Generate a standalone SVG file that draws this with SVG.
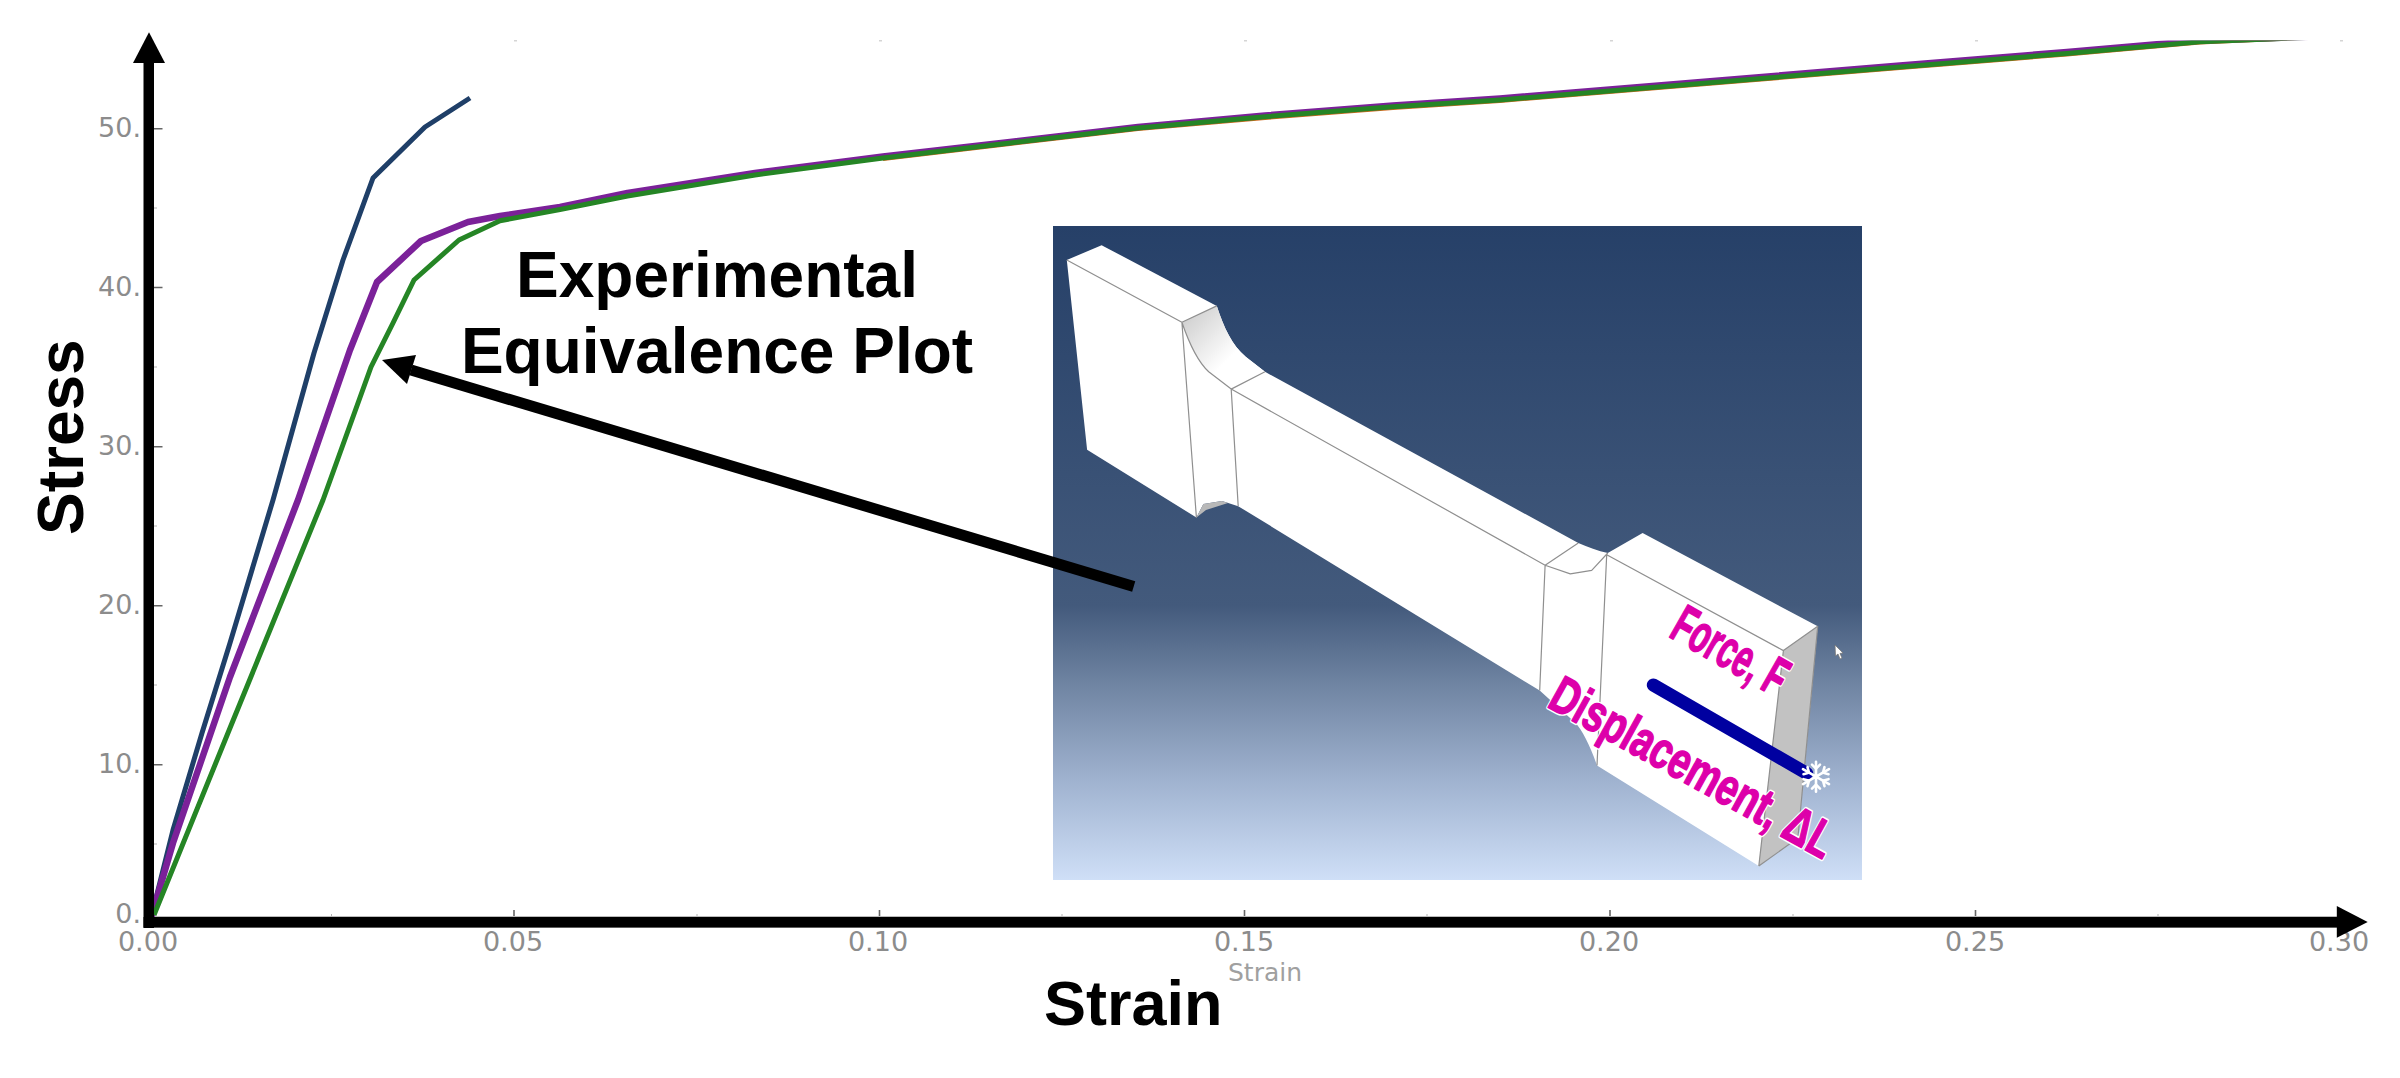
<svg xmlns="http://www.w3.org/2000/svg" width="2400" height="1078" viewBox="0 0 2400 1078">
<style>
.tick{font-family:"DejaVu Sans",sans-serif;font-size:27px;fill:#8c8c8c}
.big{font-family:"Liberation Sans",Arial,sans-serif;font-weight:700;fill:#000}
.mag{font-family:"Liberation Sans",Arial,sans-serif;font-weight:700}
.mag-out{fill:#fff;stroke:#fff;stroke-width:4.500px;stroke-linejoin:round}
.mag-in{fill:#dd00aa;stroke:#dd00aa;stroke-width:1.500px;stroke-linejoin:round}
.curve{fill:none;stroke-linejoin:round}
.edge{fill:none;stroke:#8f8f8f;stroke-width:1.200;stroke-linejoin:round}
.face{fill:#fff;stroke:none}
.flake{stroke:#fff;stroke-width:2.600;fill:none;stroke-linecap:round}
</style>
<defs>
<linearGradient id="bg" x1="0" y1="0" x2="0" y2="1">
<stop offset="0" stop-color="#264068"/><stop offset="0.58" stop-color="#435a7c"/><stop offset="0.7" stop-color="#6f84a2"/><stop offset="0.85" stop-color="#a0b3d0"/><stop offset="1" stop-color="#cfdff7"/>
</linearGradient>
<linearGradient id="fillet" x1="0" y1="0" x2="1" y2="1">
<stop offset="0" stop-color="#c8c8c8"/><stop offset="0.6" stop-color="#fff"/>
</linearGradient>
<clipPath id="plot"><rect x="100" y="40.400" width="2260" height="900"/></clipPath>
</defs>
<rect width="2400" height="1078" fill="#fff"/>

<g id="tick-marks" fill="none">
<path stroke="#666" stroke-width="1.600" d="M514 910V917M879.500 910V917M1244.500 910V917M1610 910V917M1975.500 910V917M2340 910V917M154 128.700H162.500M154 287.500H162.500M154 446.700H162.500M154 605.700H162.500M154 764.700H162.500"/>
<path stroke="#b5b5b5" stroke-width="1" d="M331.500 914V917M697 914V917M1062 914V917M1427 914V917M1793 914V917M2158 914V917M154 208H157M154 367H157M154 526H157M154 685H157M154 844H157"/>
<path stroke="#bbb" stroke-width="1.200" d="M150 916.500H2340M150 927.500H2340"/>
<path stroke="#d5d5d5" stroke-width="1.400" d="M514 40.700h3M879 40.700h3M1244 40.700h3M1610 40.700h3M1975 40.700h3M2340 40.700h3"/>
</g>

<g id="tick-labels">
<text class="tick" x="148" y="951" text-anchor="middle">0.00</text>
<text class="tick" x="513" y="951" text-anchor="middle">0.05</text>
<text class="tick" x="878" y="951" text-anchor="middle">0.10</text>
<text class="tick" x="1244" y="951" text-anchor="middle">0.15</text>
<text class="tick" x="1609" y="951" text-anchor="middle">0.20</text>
<text class="tick" x="1975" y="951" text-anchor="middle">0.25</text>
<text class="tick" x="2339" y="951" text-anchor="middle">0.30</text>
<text class="tick" x="141" y="137" text-anchor="end">50.</text>
<text class="tick" x="141" y="296" text-anchor="end">40.</text>
<text class="tick" x="141" y="455" text-anchor="end">30.</text>
<text class="tick" x="141" y="614" text-anchor="end">20.</text>
<text class="tick" x="141" y="773" text-anchor="end">10.</text>
<text class="tick" x="141" y="923" text-anchor="end">0.</text>
<text class="tick" x="1228" y="981" style="font-size:25px;fill:#a0a0a0">Strain</text>
</g>

<g id="curves" clip-path="url(#plot)">
<path class="curve" stroke="#d2691e" stroke-width="3" d="M883 159.500L1010 144.500L1138 129.500L1265 118.500L1393 108.500L1500 101.500L1900 68.500L2067 55L2200 43L2330 37"/>
<path class="curve" stroke="#1f3f68" stroke-width="5" d="M151 918L173 830L202 733L230 643L273 500L314 353L343 260L373 178L425 127L470 98"/>
<path class="curve" stroke="#7b2199" stroke-width="6.500" d="M151 918L173 843L230 677L298 500L350 350L377 282L421 241L468 222L500 216L560 207L627.500 193L755 173L883 156.500L1010 142L1138 127L1265 115.500L1393 105.500L1500 98.500L1900 65.500L2067 52L2200 40.500L2330 36"/>
<path class="curve" stroke="#258525" stroke-width="5" d="M154 915L230 728L323 500L371 367L393 323L414 280L459 240L500 220.700L560 209.500L627.500 196L755 175L883 158L1010 143L1138 128L1265 116.700L1393 106.700L1500 100L1900 67L2067 53.500L2200 41.800L2330 36.500"/>
</g>

<g id="specimen-panel">
<rect x="1053" y="226" width="809" height="654" fill="url(#bg)"/>
<path id="specimen-face" class="face" d="M1066.800 260L1101.600 245.200L1216.800 305.900C1224 328 1232 345 1246 357L1265 371.800L1578.300 543C1588 547 1598 551 1607.800 553L1642.600 533.100L1817.700 626.300L1797.900 838L1758.800 866.100L1597 765.500C1590 745 1582 730 1575.600 723L1539.700 690.500L1238.200 506.200L1222 501L1203.400 504L1196.400 517.500L1087.100 449.800Z"/>
<path fill="url(#fillet)" d="M1181.900 322.300L1216.800 305.900C1224 328 1232 345 1246 357L1265 371.800L1231.200 389.100L1208.700 371.800C1198 362 1190 346 1181.900 322.300Z"/>
<path fill="#c2c2c2" d="M1783.400 650.600L1817.700 626.300L1797.900 838L1758.800 866.100Z"/>
<path fill="#b8b8b8" d="M1196.400 517.500L1203.400 504L1222 501L1228 503L1206 510Z"/>
<path class="edge" d="M1066.800 260L1181.900 322.300L1196.400 517.500M1181.900 322.300L1216.800 305.900M1181.900 322.300C1190 346 1198 362 1208.700 371.800L1231.200 389.100L1238.200 506.200M1231.200 389.100L1265 371.800M1231.200 389.100L1545.100 565.200L1539.700 690.500M1545.100 565.200L1578.300 543M1545.100 565.200L1570.300 573.900L1591.700 570.400L1607.800 553M1606.700 554.800L1783.400 650.600L1758.800 866.100M1606.700 554.800L1597 765.500M1783.400 650.600L1817.700 626.300L1797.900 838L1758.800 866.100"/>
<path fill="#fff" stroke="#777" stroke-width="0.800" d="M1835 645L1835.500 656L1838 654L1840 659L1842 658L1840 653.500L1843 653Z"/>
</g>

<g id="black-arrow">
<path fill="none" stroke="#000" stroke-width="11" d="M411 370L1133.700 586.400"/>
<path fill="#000" d="M382 360L416 355L407 384Z"/>
</g>

<g id="axes">
<rect x="143.500" y="63" width="10.500" height="865"/>
<rect x="143.500" y="917" width="2193.500" height="10.500"/>
<path fill="#000" d="M149 32.300L165 63H133Z"/>
<path fill="#000" d="M2367.700 922L2336.800 906V937.700Z"/>
</g>

<g id="title">
<text class="big" x="717" y="297" text-anchor="middle" font-size="64">Experimental</text>
<text class="big" x="717" y="373" text-anchor="middle" font-size="64">Equivalence Plot</text>
</g>
<text id="stress-label" class="big" transform="translate(83 535) rotate(-90)" font-size="64">Stress</text>
<text id="strain-label" class="big" x="1044" y="1025" font-size="63">Strain</text>

<g id="measure">
<line x1="1653.300" y1="685" x2="1806.700" y2="773.300" stroke="#0000a0" stroke-width="13" stroke-linecap="round"/>
<g id="snowflake" class="flake" transform="translate(1816 776.700)">
<path d="M0-15V15M-13-7.500L13 7.500M-13 7.500L13-7.500"/>
<path d="M-4-12L0-8L4-12M-4 12L0 8L4 12M-12.500-2.500L-7-4L-8.500-9.500M12.500 2.500L7 4L8.500 9.500M-12.500 2.500L-7 4L-8.500 9.500M12.500-2.500L7-4L8.500-9.500"/>
</g>
<g transform="translate(1667.500 636) rotate(29.600)" class="mag" font-size="54">
<text class="mag-out" textLength="124" lengthAdjust="spacingAndGlyphs">Force, F</text>
<text class="mag-in" textLength="124" lengthAdjust="spacingAndGlyphs">Force, F</text>
</g>
<g transform="translate(1545.700 706) rotate(29)" class="mag" font-size="52">
<text class="mag-out" textLength="317" lengthAdjust="spacingAndGlyphs">Displacement, ΔL</text>
<text class="mag-in" textLength="317" lengthAdjust="spacingAndGlyphs">Displacement, ΔL</text>
</g>
</g>
</svg>
